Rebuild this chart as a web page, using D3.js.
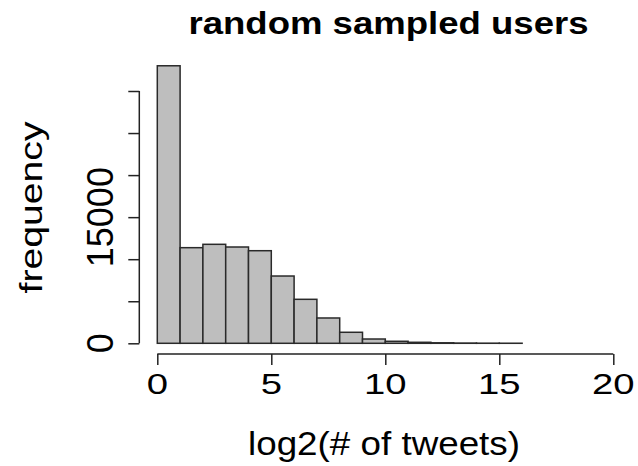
<!DOCTYPE html>
<html>
<head>
<meta charset="utf-8">
<script src="https://cdn.jsdelivr.net/npm/d3@7"></script>
<style>
  html, body { margin: 0; padding: 0; background: #fff; }
  svg { display: block; font-family: "Liberation Sans", Arial, Helvetica, sans-serif; }
</style>
</head>
<body>
<svg id="chart" width="638" height="466"></svg>
<script>
// Histogram bins of log2(# of tweets), width 1
const binStarts = [0, 1, 2, 3, 4, 5, 6, 7, 8, 9, 10, 11, 12, 13, 14, 15];
const binCounts = [33000, 11370, 11770, 11450, 11010, 8000, 5230, 3010, 1310, 510, 240, 120, 60, 30, 15, 8];

// Axis ticks
const xTicks = [0, 5, 10, 15, 20];
const xTickLabels = ["0", "5", "10", "15", "20"];
const yTicks = [0, 5000, 10000, 15000, 20000, 25000, 30000];
const yTickLabels = ["0", "", "", "15000", "", "", ""];

const titleText = "random sampled users";
const xTitle = "log2(# of tweets)";
const yTitle = "frequency";

const svg = d3.select("#chart");

const x = d3.scaleLinear().domain([0, 20]).range([157.3, 613.3]);
const y = d3.scaleLinear().domain([0, 30000]).range([343.3, 91]);

// Bars
svg.append("g")
  .selectAll("rect")
  .data(binStarts.map((s, i) => ({ x0: s, x1: s + 1, n: binCounts[i] })))
  .join("rect")
  .attr("x", d => x(d.x0))
  .attr("width", d => x(d.x1) - x(d.x0))
  .attr("y", d => y(d.n))
  .attr("height", d => y(0) - y(d.n))
  .attr("fill", "#bebebe")
  .attr("stroke", "#2a2a2a")
  .attr("stroke-width", 1.5);

// X axis (offset below the bars)
const xAxis = svg.append("g").attr("transform", "translate(0,354)");
xAxis.call(d3.axisBottom(x).tickValues(xTicks).tickSize(11).tickSizeOuter(0).tickFormat(""));
xAxis.selectAll("path, line").attr("stroke", "#222").attr("stroke-width", 1.5);
xAxis.select(".domain").attr("d", `M${x(0)},0H${x(20)}`);

svg.append("g")
  .selectAll("text")
  .data(xTicks)
  .join("text")
  .attr("transform", d => `translate(${x(d)},393.5) scale(1.32,1)`)
  .attr("text-anchor", "middle")
  .attr("font-size", 29)
  .attr("fill", "#000")
  .text((d, i) => xTickLabels[i]);

// Y axis (offset left of the bars)
const yAxis = svg.append("g").attr("transform", "translate(139.3,0)");
yAxis.call(d3.axisLeft(y).tickValues(yTicks).tickSize(11).tickSizeOuter(0).tickFormat(""));
yAxis.selectAll("path, line").attr("stroke", "#222").attr("stroke-width", 1.5);
yAxis.select(".domain").attr("d", `M0,${y(0)}V${y(30000)}`);

svg.append("g")
  .selectAll("text")
  .data(yTicks)
  .join("text")
  .attr("transform", d => `translate(112.7,${y(d)}) rotate(-90)`)
  .attr("text-anchor", "middle")
  .attr("font-size", 36)
  .attr("fill", "#000")
  .text((d, i) => yTickLabels[i]);

// Title
svg.append("text")
  .attr("x", 388.5)
  .attr("y", 33.5)
  .attr("text-anchor", "middle")
  .attr("font-size", 31)
  .attr("font-weight", "bold")
  .attr("textLength", 400)
  .attr("lengthAdjust", "spacingAndGlyphs")
  .text(titleText);

// Axis titles
svg.append("text")
  .attr("x", 384)
  .attr("y", 455)
  .attr("text-anchor", "middle")
  .attr("font-size", 33.5)
  .attr("textLength", 272)
  .attr("lengthAdjust", "spacingAndGlyphs")
  .text(xTitle);

svg.append("text")
  .attr("transform", "translate(42,207.5) rotate(-90)")
  .attr("text-anchor", "middle")
  .attr("font-size", 31)
  .attr("textLength", 172)
  .attr("lengthAdjust", "spacingAndGlyphs")
  .text(yTitle);
</script>
</body>
</html>
